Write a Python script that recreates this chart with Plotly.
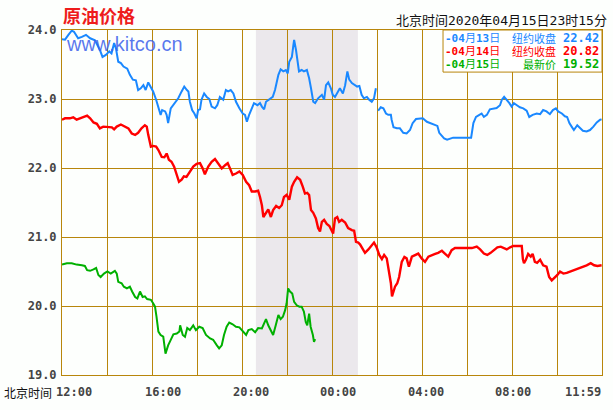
import plotly.graph_objects as go

# ---------------- data ----------------
# minutes after 12:00 (Beijing time) -> price (USD/bbl)
blue_t = [0, 8, 17, 26, 32, 43, 53, 64, 75, 88, 101, 108, 117, 126, 132, 139, 144, 150, 157, 164,
          174, 181, 189, 197, 203, 210, 217, 223, 230, 237, 243, 251, 257, 263, 267, 275, 279, 283,
          290, 297, 304, 310, 319, 326, 333, 337, 341, 347, 353, 359, 363, 368,
          372, 379, 386, 393, 399, 408, 414, 421, 430, 437, 443, 450, 457, 464, 473, 482, 488, 493,
          499, 506, 512, 521, 528, 533, 539, 544, 553, 562, 568, 573, 577, 583, 590, 597, 602, 606,
          613, 617, 619, 624, 627, 632, 639, 645, 653, 659, 664, 670, 675, 683, 693, 699, 704, 710,
          717, 722, 728, 734, 741, 749, 755, 761, 766, 773, 781, 787, 793, 799, 805, 813, 819, 826,
          832, 837, 838,
          843, 850, 857, 864, 870, 877, 879, 884, 893, 901, 910, 919, 928, 935, 944, 953, 962, 973,
          983, 995, 1001, 1006, 1013, 1019, 1027, 1035, 1043, 1061, 1079, 1091, 1097, 1104, 1113,
          1119, 1125, 1133, 1141, 1150, 1159, 1168, 1173, 1179, 1186, 1193, 1199, 1205, 1213, 1221,
          1230, 1239, 1246, 1255, 1266, 1275, 1283, 1292, 1301, 1309, 1317, 1323, 1333, 1341, 1347,
          1353, 1359, 1365, 1374, 1381, 1389, 1399, 1408, 1417, 1426, 1435, 1439]
blue_p = [23.865, 23.86, 23.93, 23.99, 23.975, 23.88, 23.90, 23.93, 23.88, 23.85, 23.71, 23.61, 23.64,
          23.69, 23.66, 23.81, 23.73, 23.54, 23.52, 23.47, 23.44, 23.35, 23.28, 23.27, 23.13, 23.155,
          23.20, 23.13, 23.24, 23.18, 23.11, 22.99, 22.89, 22.77, 22.84, 22.82, 22.77, 22.65, 22.865,
          22.91, 22.96, 23.01, 23.11, 23.18, 23.13, 23.11, 22.96, 22.84, 22.79, 22.72, 22.84, 22.85,
          22.99, 23.08, 23.03, 23.00, 22.89, 22.865, 22.91, 23.03, 22.99, 23.13, 23.11, 23.13, 23.08,
          22.96, 22.865, 22.79, 22.77, 22.67, 22.77, 22.865, 22.94, 22.91, 22.94, 22.89, 22.85, 22.96,
          22.99, 23.03, 23.13, 23.25, 23.35, 23.43, 23.40, 23.42, 23.37, 23.54, 23.61, 23.78, 23.855,
          23.71, 23.61, 23.40, 23.42, 23.40, 23.42, 23.30, 23.155, 22.96, 22.94, 23.01, 23.06, 22.99,
          23.20, 23.24, 23.155, 23.06, 23.03, 23.08, 23.155, 23.08, 23.20, 23.40, 23.28, 23.23, 23.20,
          23.18, 23.19, 23.06, 23.01, 23.03, 22.99, 22.96, 23.01, 23.155, None,
          22.83, 22.88, 22.865, 22.79, 22.77, 22.77, 22.70, 22.59, 22.575, 22.575, 22.51, 22.50, 22.55,
          22.65, 22.71, 22.72, 22.72, 22.67, 22.65, 22.62, 22.61, 22.51, 22.46, 22.43, 22.41, 22.43,
          22.44, 22.44, 22.44, 22.44, 22.65, 22.74, 22.77, 22.79, 22.74, 22.77, 22.85, 22.865, 22.87,
          22.91, 22.99, 23.03, 22.99, 22.94, 22.89, 22.94, 22.91, 22.88, 22.865, 22.83, 22.74, 22.77,
          22.79, 22.78, 22.84, 22.82, 22.78, 22.84, 22.865, 22.82, 22.79, 22.75, 22.74, 22.65, 22.60,
          22.55, 22.62, 22.575, 22.54, 22.53, 22.55, 22.60, 22.66, 22.70, 22.705]

red_t = [0, 8, 21, 30, 39, 48, 57, 67, 75, 84, 93, 101, 110, 121, 133, 139, 146, 157, 165, 177, 186,
         195, 203, 212, 221, 226, 230, 237, 243, 251, 257, 266, 273, 279, 285, 292, 299, 306, 312,
         319, 325, 332, 341, 350, 359, 368,
         375, 381, 390, 399, 408, 417, 426, 435, 442, 448, 455, 464, 473, 482, 491, 499, 506, 515,
         523, 528, 533, 537, 544, 550, 557, 563, 571, 579, 586, 592, 599, 606, 613, 619, 627, 635,
         642, 648, 654, 659, 664, 670, 677, 683, 688, 693, 699, 706, 713, 719, 723, 728, 734, 739,
         746, 755, 763, 773, 779, 784, 790,
         795, 801, 808, 817, 826, 832, 839, 846, 853, 859, 866, 873, 877, 880, 884, 888, 894, 899,
         906, 913, 919, 925, 933, 941, 950, 959, 968, 977, 986, 995, 1003, 1013, 1021, 1030, 1039,
         1048, 1061, 1079, 1093, 1106, 1115, 1125, 1134, 1143, 1152, 1161, 1170, 1177, 1186, 1195,
         1203, 1213, 1226, 1229, 1232, 1237, 1243, 1250, 1255, 1261, 1267, 1275, 1283, 1292, 1299,
         1306, 1312, 1321, 1328, 1337, 1346, 1356, 1368, 1377, 1389, 1399, 1410, 1419, 1428, 1435,
         1439]
red_p = [22.70, 22.72, 22.72, 22.735, 22.70, 22.72, 22.74, 22.76, 22.72, 22.66, 22.64, 22.575, 22.60,
         22.60, 22.59, 22.56, 22.60, 22.63, 22.61, 22.575, 22.50, 22.48, 22.51, 22.575, 22.62, 22.60,
         22.48, 22.31, 22.32, 22.31, 22.26, 22.16, 22.155, 22.21, 22.12, 22.09, 22.02, 21.90, 21.80,
         21.83, 21.88, 21.87, 21.95, 22.02, 22.06, 22.07,
         21.995, 21.91, 22.02, 22.09, 22.13, 22.07, 21.995, 22.04, 22.07, 21.995, 21.90, 21.92, 21.95,
         21.90, 21.80, 21.75, 21.66, 21.66, 21.67, 21.58, 21.46, 21.29, 21.34, 21.40, 21.29, 21.39,
         21.45, 21.42, 21.46, 21.58, 21.61, 21.54, 21.73, 21.80, 21.865, 21.83, 21.73, 21.63, 21.64,
         21.61, 21.39, 21.35, 21.27, 21.13, 21.08, 21.22, 21.25, 21.19, 21.16, 21.09, 21.05, 21.27,
         21.29, 21.22, 21.25, 21.21, 21.13, 21.10, 21.09, 20.93, 20.92,
         20.89, 20.84, 20.77, 20.82, 20.88, 20.92, 20.85, 20.74, 20.68, 20.74, 20.69, 20.47, 20.33,
         20.14, 20.21, 20.28, 20.33, 20.42, 20.64, 20.71, 20.69, 20.57, 20.715, 20.74, 20.76, 20.69,
         20.64, 20.715, 20.74, 20.755, 20.77, 20.80, 20.76, 20.715, 20.81, 20.84, 20.84, 20.84, 20.84,
         20.86, 20.82, 20.76, 20.74, 20.77, 20.81, 20.85, 20.86, 20.84, 20.82, 20.85, 20.87, 20.87,
         20.87, 20.68, 20.62, 20.67, 20.755, 20.715, 20.755, 20.64, 20.625, 20.67, 20.59, 20.57, 20.42,
         20.37, 20.40, 20.45, 20.50, 20.47, 20.48, 20.50, 20.52, 20.545, 20.56, 20.59, 20.62, 20.59,
         20.58, 20.58, 20.59]

green_t = [0, 13, 26, 39, 53, 61, 67, 75, 84, 91, 97, 103, 112, 121, 130, 141, 146, 150, 159, 165,
           173, 181, 187, 195, 201, 208, 215, 221, 227, 237, 243, 248, 252, 257, 263, 270, 276, 283,
           290, 297, 306, 313,
           315, 322, 328, 334, 341, 350, 357, 366, 375, 384, 395, 403, 413, 419, 426, 432, 439, 446,
           455, 464, 473, 482, 491, 497, 506, 515, 523,
           533, 539, 544, 550, 557, 563, 570, 577, 583, 589, 595, 599, 603, 608, 614, 619, 626, 633,
           639, 645, 650, 654, 659, 663, 669, 672, 675]
green_p = [20.60, 20.62, 20.62, 20.60, 20.59, 20.58, 20.52, 20.51, 20.53, 20.55, 20.45, 20.42, 20.47,
           20.50, 20.47, 20.51, 20.47, 20.35, 20.33, 20.28, 20.255, 20.28, 20.21, 20.13, 20.11, 20.21,
           20.13, 20.14, 20.10, 20.09, 20.04, 19.99, 19.845, 19.63, 19.58, 19.555, 19.31, 19.43, 19.51,
           19.59, 19.60, 19.63,
           19.72, 19.58, 19.555, 19.68, 19.65, 19.72, 19.65, 19.70, 19.68, 19.58, 19.53, 19.51, 19.43,
           19.385, 19.43, 19.58, 19.70, 19.76, 19.735, 19.70, 19.69, 19.64, 19.58, 19.65, 19.665,
           19.62, 19.68,
           19.675, 19.76, 19.81, 19.72, 19.63, 19.58, 19.72, 19.87, 19.81, 19.845, 19.94, 20.04,
           20.255, 20.21, 20.18, 20.06, 20.01, 19.99, 19.99, 19.92, 19.77, 19.72, 19.89, 19.70, 19.58,
           19.48, 19.52]

legend_dates = ["04月13日", "04月14日", "04月15日"]
legend_kinds = ["纽约收盘", "纽约收盘", "最新价"]
legend_values = [22.42, 20.82, 19.52]

x_tick_minutes = [0, 240, 480, 720, 960, 1200, 1439]
x_tick_labels = ["12:00", "16:00", "20:00", "00:00", "04:00", "08:00", "11:59"]

shade_start, shade_end = 517, 789   # shaded session window (minutes after 12:00)

title_text = "原油价格"
time_text = "北京时间2020年04月15日23时15分"
axis_name = "北京时间"
watermark = "www.kitco.cn"

# ---------------- style ----------------
GOLD = "#b8860b"
BG = "#fdfffd"
colors = ["#1a88ff", "#ff0000", "#00b000"]
MONO = "DejaVu Sans Mono, Noto Sans CJK SC"
CJK = "Noto Sans CJK SC, DejaVu Sans"

fig = go.Figure()
series = [(blue_t, blue_p), (red_t, red_p), (green_t, green_p)]
widths = [2, 2.4, 2]
for (t, p), c, w in zip(series, colors, widths):
    fig.add_trace(go.Scatter(x=t, y=p, mode="lines", line=dict(color=c, width=w),
                             connectgaps=False, showlegend=False, hoverinfo="skip"))

fig.add_shape(type="rect", xref="x", yref="paper", x0=shade_start, x1=shade_end, y0=0, y1=1,
              fillcolor="#ebe8ec", line=dict(width=0), layer="below")

# legend box
fig.add_shape(type="rect", xref="paper", yref="paper", x0=0.7056, x1=1.0, y0=0.878, y1=1.0,
              fillcolor="white", line=dict(color=GOLD, width=1), layer="above")

row_y = [0.9768, 0.939, 0.9014]
for d, k, v, c, yy in zip(legend_dates, legend_kinds, legend_values, colors, row_y):
    dd = d.replace("月", "</b>月<b>").replace("日", "</b>日")
    fig.add_annotation(xref="paper", yref="paper", x=0.7080, y=yy, xanchor="left", yanchor="middle",
                       text="<b>-" + dd, showarrow=False, borderpad=0, height=12,
                       font=dict(family=MONO, size=11, color=c))
    fig.add_annotation(xref="paper", yref="paper", x=0.9170, y=yy, xanchor="right", yanchor="middle",
                       text=k, showarrow=False, borderpad=0, height=12,
                       font=dict(family=CJK, size=11, color=c))
    fig.add_annotation(xref="paper", yref="paper", x=0.9970, y=yy, xanchor="right", yanchor="middle",
                       text="<b>%.2f</b>" % v, showarrow=False, borderpad=0, height=12,
                       font=dict(family=MONO, size=12, color=c))

# x tick labels (placed below the axis)
x_shifts = [12, 11, 9, 6, 4, 1, -19]
for m, lab, s in zip(x_tick_minutes, x_tick_labels, x_shifts):
    fig.add_annotation(xref="x", yref="paper", x=m, y=0, xanchor="center", yanchor="middle",
                       yshift=-17, xshift=s, text="<b>%s</b>" % lab, showarrow=False,
                       font=dict(family=MONO, size=12, color="#444444"))

fig.add_annotation(xref="paper", yref="paper", x=0, y=0, xanchor="left", yanchor="middle",
                   xshift=-60, yshift=-17, text=axis_name, showarrow=False,
                   font=dict(family=CJK, size=12, color="#111111"))

fig.add_annotation(xref="paper", yref="paper", x=0, y=1, xanchor="left", yanchor="middle",
                   xshift=-1, yshift=15, text="<b>%s</b>" % title_text, showarrow=False,
                   font=dict(family=CJK, size=18, color="#ee1c1c"))

fig.add_annotation(xref="paper", yref="paper", x=1, y=1, xanchor="right", yanchor="middle",
                   xshift=7, yshift=10, text=time_text, showarrow=False,
                   font=dict(family=MONO, size=13, color="#111111"))

fig.add_annotation(xref="paper", yref="paper", x=0, y=1, xanchor="left", yanchor="middle",
                   xshift=2, yshift=-14, text=watermark, showarrow=False,
                   font=dict(family="Liberation Sans, Arial", size=20, color="rgba(60,95,235,0.85)"))

fig.update_layout(
    width=613, height=410,
    margin=dict(l=62, r=11, t=30, b=35),
    paper_bgcolor=BG, plot_bgcolor=BG,
    showlegend=False,
)
fig.update_xaxes(range=[0, 1440], tickmode="linear", tick0=0, dtick=120, showticklabels=False,
                 showgrid=True, gridcolor=GOLD, gridwidth=1, zeroline=False,
                 showline=True, linecolor=GOLD, linewidth=1, mirror=True, ticks="")
fig.update_yaxes(range=[19, 24], tickmode="linear", tick0=19, dtick=1, tickformat=".1f",
                 showgrid=True, gridcolor=GOLD, gridwidth=1, zeroline=False,
                 showline=True, linecolor=GOLD, linewidth=1, mirror=True, ticks="",
                 ticklabelstandoff=2,
                 tickfont=dict(family="DejaVu Sans Mono", size=12, color="#444444", weight="bold"))

fig.write_html("out.html", config={"displayModeBar": False},
               post_script="document.body.style.margin='0';document.body.style.background='%s';" % BG)
